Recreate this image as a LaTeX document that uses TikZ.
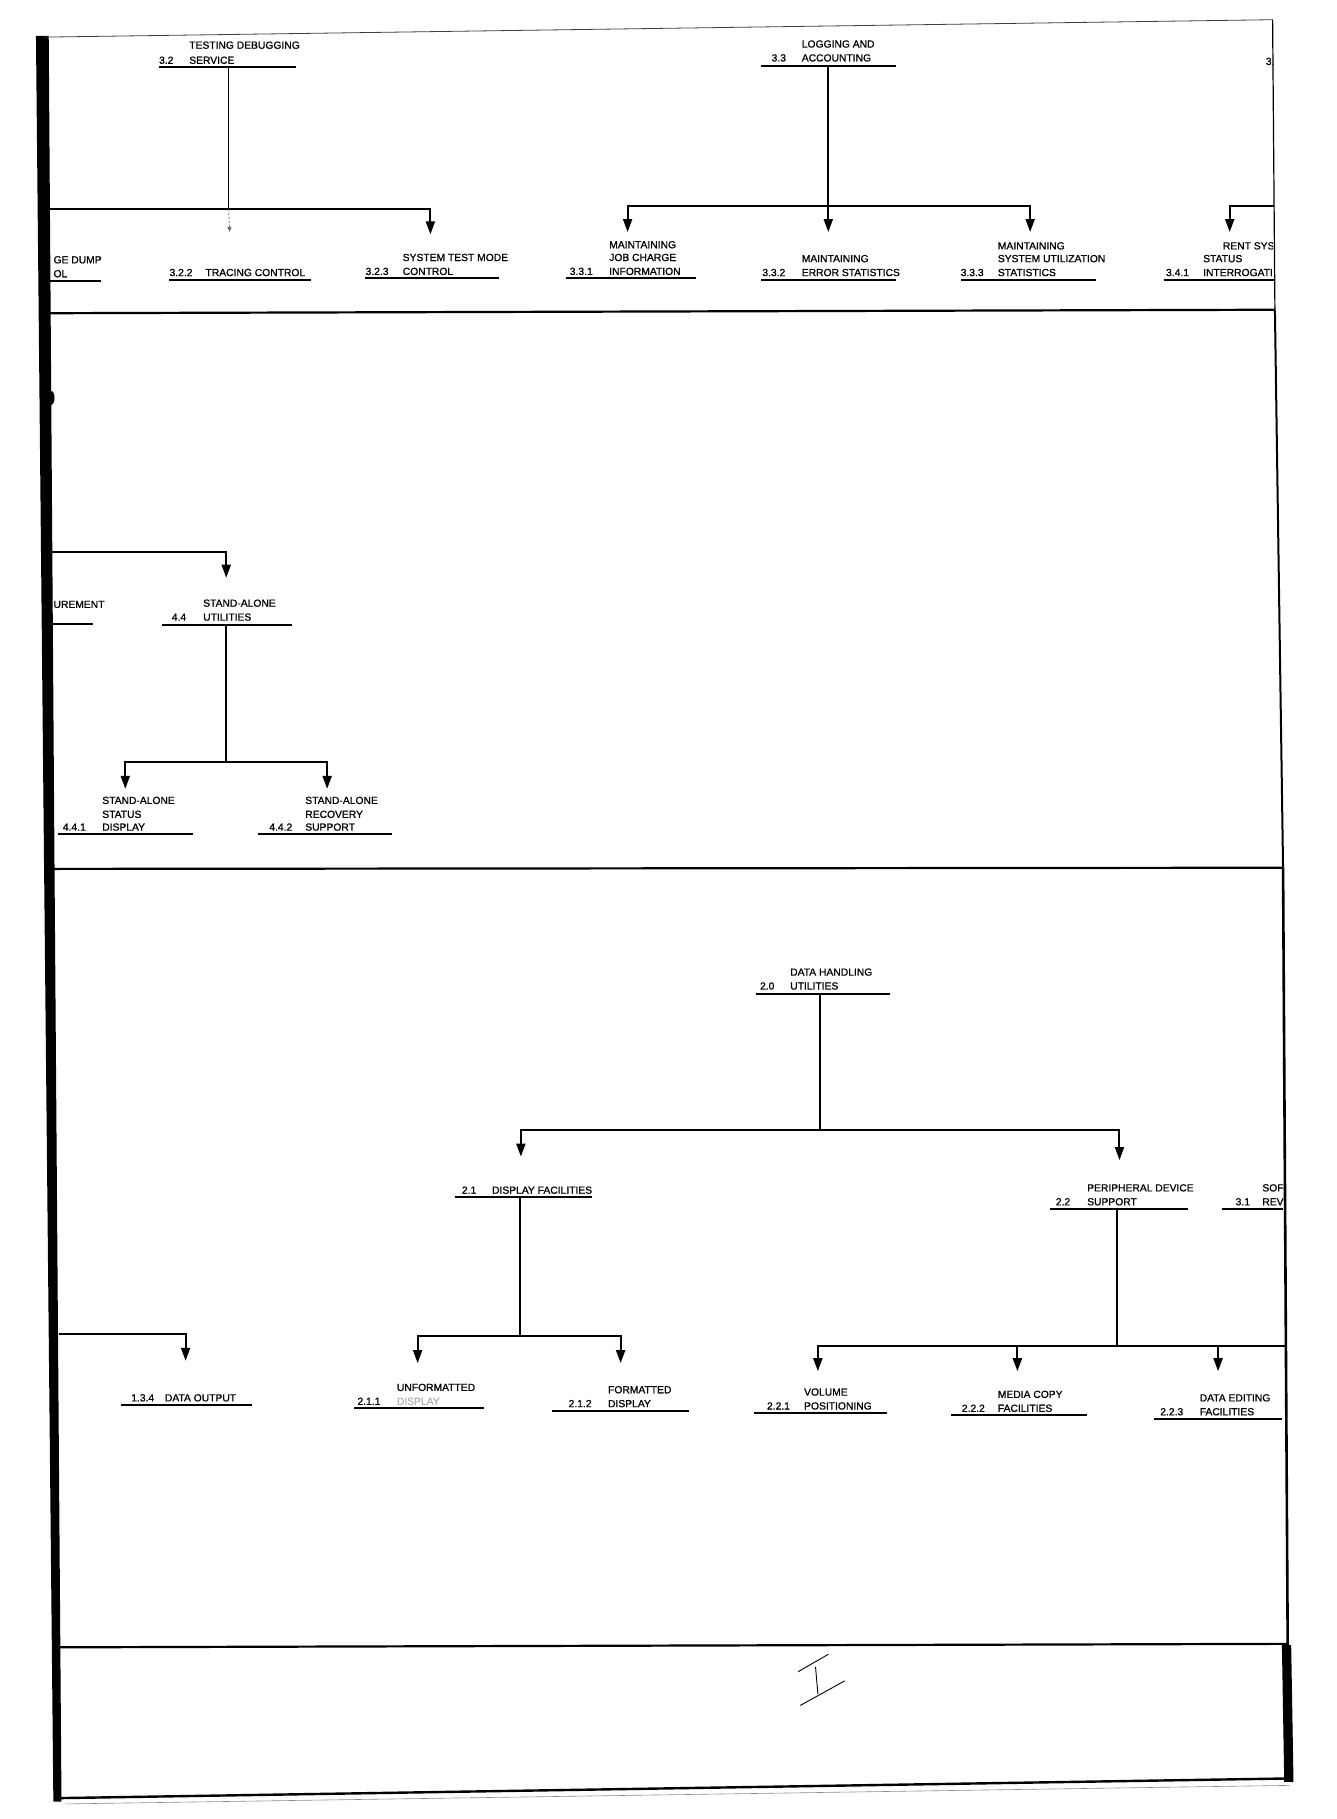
\documentclass[tikz,border=0pt]{standalone}
\usepackage{fontspec}
\setmainfont{Liberation Sans}
\newfontfamily\lblfont[FakeBold=0.9]{Liberation Sans}
\usetikzlibrary{arrows.meta}
\begin{document}
\begin{tikzpicture}[x=1.1597pt,y=-1.1597pt,
  lbl/.style={anchor=base west,inner sep=0pt,font=\lblfont\fontsize{10.3}{12}\selectfont},
  conn/.style={line width=2pt},
  uline/.style={line width=2.1pt},
  arr/.style={line width=2pt,-{Triangle[width=9pt,length=13pt]}},
  framel/.style={line width=2.2pt}]
\useasboundingbox (0,0) rectangle (1152,1568);
\fill[white] (0,0) rectangle (1152,1568);

% ---------------- frame ----------------
\fill[black] (31,31) -- (42,31) -- (47,748) -- (53,1553) -- (46,1553) -- (38,748) -- cycle;
\fill[black] (44,343) ellipse (3 and 6);
\draw[line width=0.8pt,black!75] (38,32) -- (1097,17);
\draw[line width=1.2pt] (1097,17) -- (1099,268);
\draw[line width=2pt] (1099,268) -- (1106,748);
\draw[line width=2.6pt] (1106,748) -- (1110,1418);
\fill[black] (1105,1418) -- (1113,1418) -- (1115,1536) -- (1107,1536) -- cycle;
\draw[framel] (42,270) -- (1099,267);
\draw[framel] (46,749) -- (1106,748);
\draw[framel] (50,1420) -- (1110,1417);
\draw[line width=2.4pt] (50,1550) -- (1113,1533);
\draw[black!45,line width=0.6pt] (56,1555) -- (1112,1539);

% ---------------- 3.2 TESTING DEBUGGING SERVICE ----------------
\node[lbl] (t32a) at (163,42) {TESTING DEBUGGING};
\node[lbl] (n32) at (137,55) {3.2};
\node[lbl] (t32b) at (163,55) {SERVICE};
\coordinate (u32l) at (137,58); \coordinate (u32r) at (255,58);
\draw[uline] (u32l) -- (u32r);
\coordinate (p32) at (197,58); \coordinate (b32) at (197,180);
\coordinate (b32l) at (42,180);
\draw[line width=1.4pt] (p32) -- (b32);
\draw[conn] (b32l) -- (b32);
\coordinate (c323) at (371,202);
\draw[arr] (b32) -| (c323);
\coordinate (c322) at (198,200);
\draw[black!60,line width=0.7pt,dash pattern=on 2pt off 2pt,-{Triangle[width=4pt,length=5pt]}] (b32) -- (c322);

% 3.2.1 (clipped)
\node[lbl] (t321a) at (46,227) {GE DUMP};
\node[lbl] (t321b) at (46,239) {OL};
\coordinate (u321l) at (42,242); \coordinate (u321r) at (87,242);
\draw[uline] (u321l) -- (u321r);

% 3.2.2
\node[lbl] (n322) at (146,238) {3.2.2};
\node[lbl] (t322) at (177,238) {TRACING CONTROL};
\coordinate (u322l) at (146,241); \coordinate (u322r) at (268,241);
\draw[uline] (u322l) -- (u322r);

% 3.2.3
\node[lbl] (t323a) at (347,225) {SYSTEM TEST MODE};
\node[lbl] (n323) at (315,237) {3.2.3};
\node[lbl] (t323b) at (347,237) {CONTROL};
\coordinate (u323l) at (315,240); \coordinate (u323r) at (430,240);
\draw[uline] (u323l) -- (u323r);

% ---------------- 3.3 LOGGING AND ACCOUNTING ----------------
\node[lbl] (t33a) at (691,41) {LOGGING AND};
\node[lbl] (n33) at (665,53) {3.3};
\node[lbl] (t33b) at (691,53) {ACCOUNTING};
\coordinate (u33l) at (656,57); \coordinate (u33r) at (772,57);
\draw[uline] (u33l) -- (u33r);
\coordinate (p33) at (714,57); \coordinate (b33) at (714,178);
\draw[conn] (p33) -- (b33);
\coordinate (c331) at (541,200); \coordinate (c332) at (714,200); \coordinate (c333) at (888,200);
\draw[arr] (b33) -| (c331);
\draw[arr] (b33) -- (c332);
\draw[arr] (b33) -| (c333);

% 3.3.1
\node[lbl] (t331a) at (525,214) {MAINTAINING};
\node[lbl] (t331b) at (525,225) {JOB CHARGE};
\node[lbl] (n331) at (491,237) {3.3.1};
\node[lbl] (t331c) at (525,237) {INFORMATION};
\coordinate (u331l) at (488,240); \coordinate (u331r) at (600,240);
\draw[uline] (u331l) -- (u331r);

% 3.3.2
\node[lbl] (t332a) at (691,226) {MAINTAINING};
\node[lbl] (n332) at (657,238) {3.3.2};
\node[lbl] (t332b) at (691,238) {ERROR STATISTICS};
\coordinate (u332l) at (656,241); \coordinate (u332r) at (772,241);
\draw[uline] (u332l) -- (u332r);

% 3.3.3
\node[lbl] (t333a) at (860,215) {MAINTAINING};
\node[lbl] (t333b) at (860,226) {SYSTEM UTILIZATION};
\node[lbl] (n333) at (828,238) {3.3.3};
\node[lbl] (t333c) at (860,238) {STATISTICS};
\coordinate (u333l) at (828,241); \coordinate (u333r) at (945,241);
\draw[uline] (u333l) -- (u333r);

% 3.4 (clipped at right edge)
\begin{scope}
\clip (0,0) rectangle (1097.5,268);
\node[lbl] (n34) at (1091,56) {3.4};
\node[lbl] (t341a) at (1054,215) {RENT SYSTEM};
\node[lbl] (t341b) at (1037,226) {STATUS};
\node[lbl] (n341) at (1005,238) {3.4.1};
\node[lbl] (t341c) at (1037,238) {INTERROGATION};
\end{scope}
\coordinate (u341l) at (1003,241); \coordinate (u341r) at (1098,241);
\draw[uline] (u341l) -- (u341r);
\coordinate (b34r) at (1098,178); \coordinate (c341) at (1060,200);
\draw[arr] (b34r) -| (c341);

% ---------------- 4.x section ----------------
\coordinate (b44l) at (43,476); \coordinate (c44) at (195,498);
\draw[arr] (b44l) -| (c44);

\node[lbl] (t43) at (46,524) {UREMENT};
\coordinate (u43l) at (43,538); \coordinate (u43r) at (80,538);
\draw[uline] (u43l) -- (u43r);

% 4.4
\node[lbl] (t44a) at (175,523) {STAND-ALONE};
\node[lbl] (n44) at (148,535) {4.4};
\node[lbl] (t44b) at (175,535) {UTILITIES};
\coordinate (u44l) at (140,539); \coordinate (u44r) at (252,539);
\draw[uline] (u44l) -- (u44r);
\coordinate (p44) at (195,539); \coordinate (b44) at (195,657);
\draw[conn] (p44) -- (b44);
\coordinate (c441) at (108,680); \coordinate (c442) at (282,680);
\draw[arr] (b44) -| (c441);
\draw[arr] (b44) -| (c442);

% 4.4.1
\node[lbl] (t441a) at (88,693) {STAND-ALONE};
\node[lbl] (t441b) at (88,705) {STATUS};
\node[lbl] (n441) at (54,716) {4.4.1};
\node[lbl] (t441c) at (88,716) {DISPLAY};
\coordinate (u441l) at (50,719); \coordinate (u441r) at (166,719);
\draw[uline] (u441l) -- (u441r);

% 4.4.2
\node[lbl] (t442a) at (263,693) {STAND-ALONE};
\node[lbl] (t442b) at (263,705) {RECOVERY};
\node[lbl] (n442) at (232,716) {4.4.2};
\node[lbl] (t442c) at (263,716) {SUPPORT};
\coordinate (u442l) at (222,719); \coordinate (u442r) at (338,719);
\draw[uline] (u442l) -- (u442r);

% ---------------- 2.0 DATA HANDLING UTILITIES ----------------
\node[lbl] (t20a) at (681,841) {DATA HANDLING};
\node[lbl] (n20) at (655,853) {2.0};
\node[lbl] (t20b) at (681,853) {UTILITIES};
\coordinate (u20l) at (652,857); \coordinate (u20r) at (767,857);
\draw[uline] (u20l) -- (u20r);
\coordinate (p20) at (707,857); \coordinate (b20) at (707,974);
\draw[conn] (p20) -- (b20);
\coordinate (c21) at (449,997); \coordinate (c22) at (965,1000);
\draw[arr] (b20) -| (c21);
\draw[arr] (b20) -| (c22);

% 2.1
\node[lbl] (n21) at (398,1029) {2.1};
\node[lbl] (t21) at (424,1029) {DISPLAY FACILITIES};
\coordinate (u21l) at (392,1032); \coordinate (u21r) at (510,1032);
\draw[uline] (u21l) -- (u21r);
\coordinate (p21) at (448,1032); \coordinate (b21) at (448,1152);
\draw[conn] (p21) -- (b21);
\coordinate (c211) at (360,1175); \coordinate (c212) at (535,1175);
\draw[arr] (b21) -| (c211);
\draw[arr] (b21) -| (c212);

% 2.1.1
\node[lbl] (t211a) at (342,1199) {UNFORMATTED};
\node[lbl] (n211) at (308,1211) {2.1.1};
\node[lbl,text=black!30] (t211b) at (342,1211) {DISPLAY};
\coordinate (u211l) at (305,1214); \coordinate (u211r) at (417,1214);
\draw[uline] (u211l) -- (u211r);

% 2.1.2
\node[lbl] (t212a) at (524,1201) {FORMATTED};
\node[lbl] (n212) at (490,1213) {2.1.2};
\node[lbl] (t212b) at (524,1213) {DISPLAY};
\coordinate (u212l) at (476,1216); \coordinate (u212r) at (594,1216);
\draw[uline] (u212l) -- (u212r);

% 1.3.4
\coordinate (b134l) at (51,1150); \coordinate (c134) at (160,1173);
\draw[arr] (b134l) -| (c134);
\node[lbl] (n134) at (113,1208) {1.3.4};
\node[lbl] (t134) at (142,1208) {DATA OUTPUT};
\coordinate (u134l) at (104,1211); \coordinate (u134r) at (217,1211);
\draw[uline] (u134l) -- (u134r);

% 2.2
\node[lbl] (t22a) at (937,1027) {PERIPHERAL DEVICE};
\node[lbl] (n22) at (910,1039) {2.2};
\node[lbl] (t22b) at (937,1039) {SUPPORT};
\coordinate (u22l) at (905,1042); \coordinate (u22r) at (1024,1042);
\draw[uline] (u22l) -- (u22r);
\coordinate (p22) at (963,1042); \coordinate (b22) at (963,1160);
\coordinate (b22r) at (1108,1160);
\draw[conn] (p22) -- (b22);
\draw[conn] (b22) -- (b22r);
\coordinate (c221) at (705,1182); \coordinate (c222) at (877,1182); \coordinate (c223) at (1050,1182);
\draw[arr] (b22) -| (c221);
\draw[arr] (b22) -| (c222);
\draw[arr] (b22) -| (c223);

% 2.2.1
\node[lbl] (t221a) at (693,1203) {VOLUME};
\node[lbl] (n221) at (661,1215) {2.2.1};
\node[lbl] (t221b) at (693,1215) {POSITIONING};
\coordinate (u221l) at (650,1218); \coordinate (u221r) at (765,1218);
\draw[uline] (u221l) -- (u221r);

% 2.2.2
\node[lbl] (t222a) at (860,1205) {MEDIA COPY};
\node[lbl] (n222) at (829,1217) {2.2.2};
\node[lbl] (t222b) at (860,1217) {FACILITIES};
\coordinate (u222l) at (820,1220); \coordinate (u222r) at (937,1220);
\draw[uline] (u222l) -- (u222r);

% 2.2.3
\node[lbl] (t223a) at (1034,1208) {DATA EDITING};
\node[lbl] (n223) at (1000,1220) {2.2.3};
\node[lbl] (t223b) at (1034,1220) {FACILITIES};
\coordinate (u223l) at (995,1223); \coordinate (u223r) at (1105,1223);
\draw[uline] (u223l) -- (u223r);

% 3.1 (clipped at right edge)
\begin{scope}
\clip (0,760) rectangle (1106,1400);
\node[lbl] (t31a) at (1088,1027) {SOFTWARE};
\node[lbl] (n31) at (1065,1039) {3.1};
\node[lbl] (t31b) at (1088,1039) {REVIEW};
\end{scope}
\coordinate (u31l) at (1053,1042); \coordinate (u31r) at (1106,1042);
\draw[uline] (u31l) -- (u31r);

% handwritten mark
\draw[line width=0.9pt,line cap=round] (688,1441) -- (714,1426);
\draw[line width=0.9pt,line cap=round] (703,1437) -- (705,1460);
\draw[line width=0.9pt,line cap=round] (690,1470) -- (728,1449);
\end{tikzpicture}
\end{document}
